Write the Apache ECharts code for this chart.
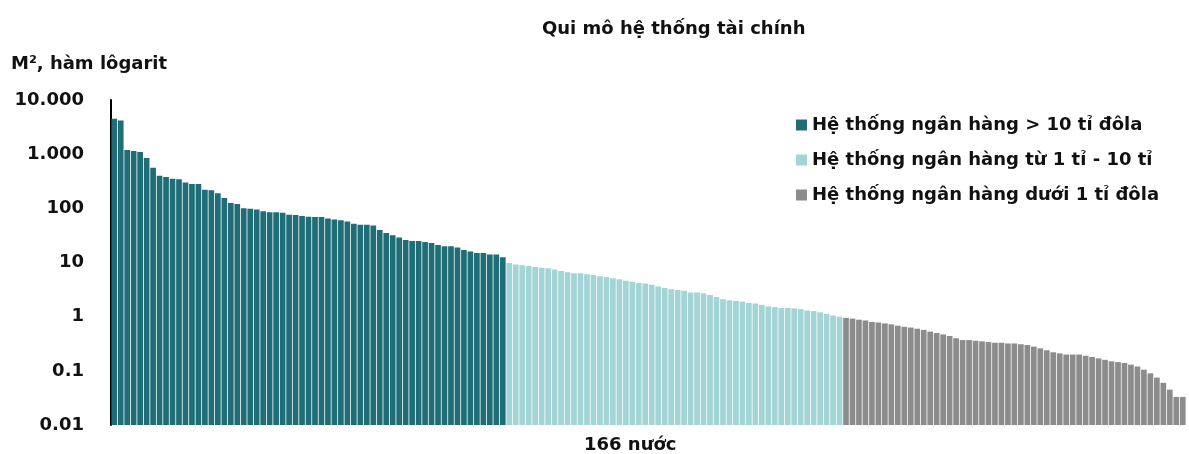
<!DOCTYPE html>
<html>
<head>
<meta charset="utf-8">
<script src="https://cdn.jsdelivr.net/npm/echarts@6/dist/echarts.min.js"></script>
<style>html,body{margin:0;padding:0;background:#fff}#c{width:1189px;height:454px}</style>
</head>
<body>
<div id="c"></div>
<script>
const titleText = "Qui mô hệ thống tài chính";
const yAxisTitle = "M², hàm lôgarit";
const xAxisTitle = "166 nước";
const seriesNames = ["Hệ thống ngân hàng > 10 tỉ đôla", "Hệ thống ngân hàng từ 1 tỉ - 10 tỉ", "Hệ thống ngân hàng dưới 1 tỉ đôla"];
const yTickLabels = ["0.01", "0.1", "1", "10", "100", "1.000", "10.000"];

const largeBanks = [4500, 4200, 1200, 1150, 1100, 850, 560, 400, 380, 350, 345, 300, 280, 280, 220, 215, 190, 155, 125, 120,
  100, 98, 95, 88, 85, 85, 83, 76, 75, 72, 70, 69, 69, 65, 62, 60, 57, 52, 50, 50,
  48, 40, 35, 32, 29, 26, 25, 25, 24, 23, 21, 20, 20, 19, 17, 16, 15, 15, 14, 14, 12.5];
const midBanks = [9.8, 9.2, 8.9, 8.6, 8.3, 8.0, 7.8, 7.4, 7.0, 6.6, 6.3, 6.3, 6.1, 5.9, 5.6, 5.4, 5.1, 4.9, 4.6, 4.4,
  4.2, 4.1, 3.9, 3.6, 3.4, 3.2, 3.1, 3.0, 2.8, 2.8, 2.7, 2.5, 2.3, 2.1, 2.0, 1.95, 1.9, 1.8, 1.75, 1.65,
  1.55, 1.5, 1.45, 1.45, 1.42, 1.38, 1.3, 1.27, 1.2, 1.12, 1.05, 1.0];
const smallBanks = [0.95, 0.92, 0.88, 0.85, 0.8, 0.78, 0.75, 0.72, 0.68, 0.65, 0.63, 0.6, 0.57, 0.53, 0.5, 0.47, 0.44, 0.4, 0.37, 0.37,
  0.36, 0.35, 0.34, 0.33, 0.33, 0.32, 0.32, 0.31, 0.3, 0.28, 0.26, 0.24, 0.22, 0.21, 0.2, 0.2, 0.2, 0.19, 0.18, 0.17,
  0.16, 0.15, 0.145, 0.14, 0.13, 0.12, 0.105, 0.09, 0.075, 0.06, 0.045, 0.033, 0.033];

const groups = [largeBanks, midBanks, smallBanks];
const total = largeBanks.length + midBanks.length + smallBanks.length;
const categories = [];
for (let i = 0; i < total; i++) categories.push(String(i + 1));

// log scale: decades above 0.01 (so bars grow from the 0.01 baseline)
const LOG_MIN = -2;
function padded(idx) {
  const out = new Array(total).fill('-');
  let start = 0;
  for (let g = 0; g < idx; g++) start += groups[g].length;
  groups[idx].forEach((v, k) => { out[start + k] = Math.log10(v) - LOG_MIN; });
  return out;
}
const colors = ['#1f6e77', '#a3d5d6', '#8c8c8c'];
const font = '"DejaVu Sans", Verdana, sans-serif';

const chart = echarts.init(document.getElementById('c'), null, {renderer: 'canvas'});
chart.setOption({
  animation: false,
  color: colors,
  title: {text: titleText, left: 537, top: 15, textStyle: {fontFamily: font, fontSize: 18, fontWeight: 'bold', color: '#111'}},
  graphic: [
    {type: 'text', left: 11, top: 55, style: {text: yAxisTitle, font: 'bold 18px ' + font, fill: '#111'}},
    {type: 'text', left: 584, top: 436, style: {text: xAxisTitle, font: 'bold 18px ' + font, fill: '#111'}}
  ],
  legend: {
    orient: 'vertical', left: 791, top: 111, itemWidth: 11, itemHeight: 11, itemGap: 17, icon: 'rect',
    textStyle: {fontFamily: font, fontSize: 18, fontWeight: 'bold', color: '#111'},
    data: seriesNames
  },
  grid: {left: 111, right: 3, top: 100, bottom: 29, containLabel: false},
  xAxis: {
    type: 'category', data: categories, axisLine: {show: false}, axisTick: {show: false}, axisLabel: {show: false}
  },
  yAxis: {
    type: 'value', min: 0, max: 6, interval: 1,
    axisLine: {show: true, lineStyle: {color: '#000', width: 2}},
    axisTick: {show: false},
    splitLine: {show: false},
    axisLabel: {
      margin: 27, fontFamily: font, fontSize: 18, fontWeight: 'bold', color: '#111',
      formatter: v => yTickLabels[Math.round(v)]
    }
  },
  series: seriesNames.map((n, i) => ({
    name: n, type: 'bar', data: padded(i), barGap: '-100%', barCategoryGap: '12%',
    itemStyle: {color: colors[i]}
  }))
});
</script>
</body>
</html>
